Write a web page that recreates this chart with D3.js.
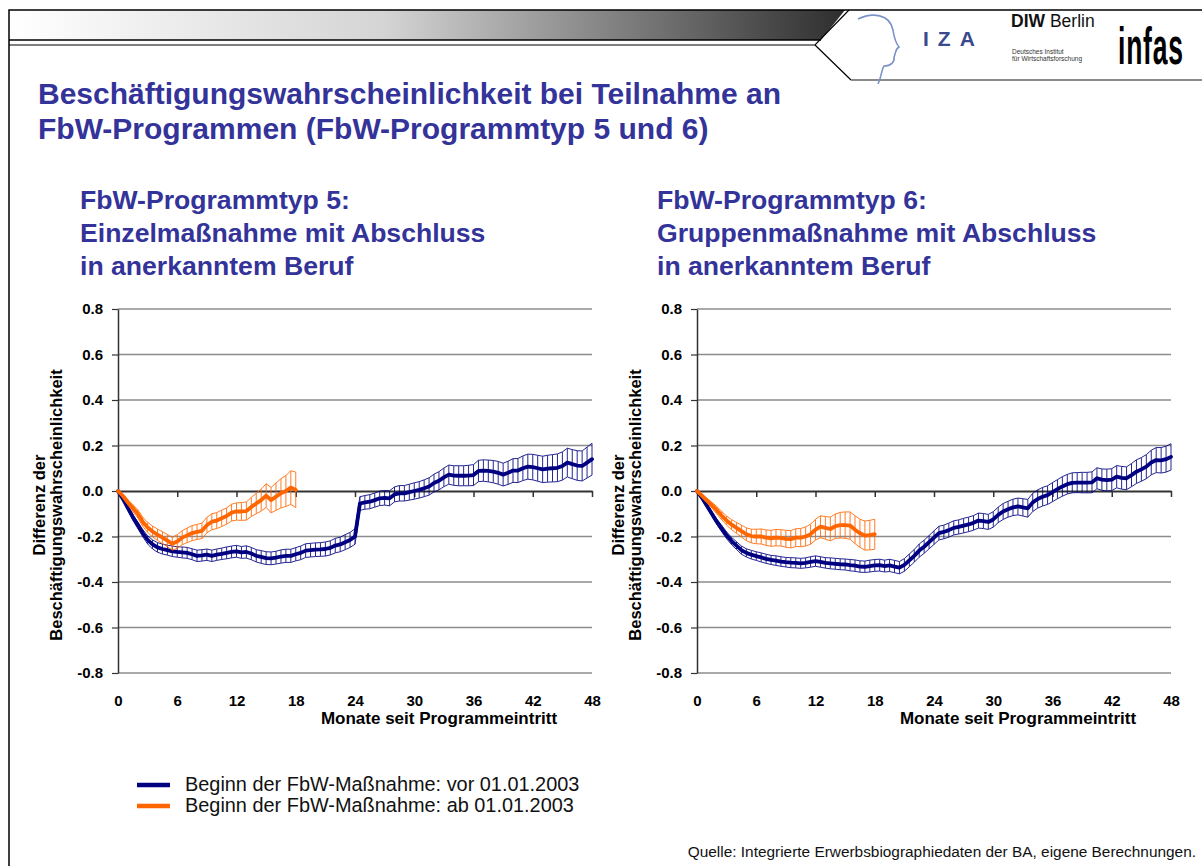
<!DOCTYPE html>
<html>
<head>
<meta charset="utf-8">
<script src="https://cdn.jsdelivr.net/npm/d3@7"></script>
<style>
  body { margin: 0; background: #fff; }
  svg { display: block; }
  text { font-family: "Liberation Sans", Arial, sans-serif; }
</style>
</head>
<body>
<svg id="chart" width="1202" height="866"></svg>
<script>
// months since entry, tick labels
const xTicks = [0, 6, 12, 18, 24, 30, 36, 42, 48];
const yTicks = [-0.8, -0.6, -0.4, -0.2, 0, 0.2, 0.4, 0.6, 0.8];
const step = 0.5; // half-month observations

// Programmtyp 5, Beginn vor 01.01.2003 (blue)
const vor5 = [
  0, -0.035, -0.075, -0.115, -0.15, -0.185, -0.215, -0.235, -0.248, -0.255,
  -0.26, -0.265, -0.268, -0.27, -0.272, -0.278, -0.285, -0.283, -0.28, -0.285,
  -0.28, -0.276, -0.272, -0.268, -0.265, -0.27, -0.268, -0.275, -0.285, -0.29,
  -0.295, -0.296, -0.293, -0.288, -0.285, -0.285, -0.278, -0.272, -0.262, -0.26,
  -0.258, -0.257, -0.255, -0.25, -0.24, -0.235, -0.225, -0.215, -0.2, -0.055,
  -0.05, -0.047, -0.04, -0.032, -0.03, -0.032, -0.015, -0.01, -0.01, -0.005,
  0, 0.005, 0.012, 0.02, 0.035, 0.045, 0.06, 0.072, 0.068, 0.067,
  0.067, 0.068, 0.07, 0.088, 0.09, 0.088, 0.085, 0.08, 0.072, 0.08,
  0.09, 0.09, 0.1, 0.107, 0.105, 0.1, 0.095, 0.098, 0.1, 0.102,
  0.11, 0.125, 0.118, 0.112, 0.11, 0.125, 0.14
];
const vor5Ci = [
  0, 0.006, 0.01, 0.012, 0.014, 0.016, 0.018, 0.02, 0.021, 0.022,
  0.022, 0.023, 0.023, 0.024, 0.024, 0.024, 0.025, 0.025, 0.025, 0.025,
  0.025, 0.025, 0.026, 0.026, 0.026, 0.026, 0.027, 0.027, 0.027, 0.028,
  0.028, 0.028, 0.028, 0.029, 0.029, 0.029, 0.029, 0.03, 0.03, 0.03,
  0.03, 0.03, 0.031, 0.031, 0.032, 0.032, 0.033, 0.033, 0.034, 0.03,
  0.03, 0.031, 0.031, 0.032, 0.032, 0.033, 0.033, 0.034, 0.034, 0.035,
  0.036, 0.036, 0.037, 0.038, 0.039, 0.04, 0.041, 0.042, 0.043, 0.044,
  0.044, 0.045, 0.046, 0.047, 0.047, 0.048, 0.049, 0.05, 0.05, 0.051,
  0.052, 0.053, 0.054, 0.055, 0.056, 0.057, 0.058, 0.059, 0.06, 0.061,
  0.062, 0.063, 0.064, 0.065, 0.066, 0.068, 0.07
];
// Programmtyp 5, Beginn ab 01.01.2003 (orange)
const ab5 = [
  0, -0.022, -0.05, -0.075, -0.1, -0.135, -0.16, -0.178, -0.192, -0.205,
  -0.218, -0.232, -0.222, -0.205, -0.195, -0.185, -0.18, -0.175, -0.15, -0.135,
  -0.13, -0.12, -0.11, -0.095, -0.09, -0.09, -0.088, -0.07, -0.055, -0.04,
  -0.02, -0.04, -0.025, -0.01, 0, 0.015, 0.005
];
const ab5Ci = [
  0, 0.008, 0.012, 0.015, 0.018, 0.02, 0.022, 0.024, 0.025, 0.026,
  0.027, 0.028, 0.03, 0.031, 0.032, 0.033, 0.033, 0.034, 0.034, 0.035,
  0.035, 0.036, 0.036, 0.037, 0.038, 0.039, 0.04, 0.042, 0.045, 0.048,
  0.052, 0.056, 0.06, 0.064, 0.068, 0.074, 0.078
];
// Programmtyp 6, Beginn vor 01.01.2003 (blue)
const vor6 = [
  0, -0.03, -0.065, -0.1, -0.135, -0.165, -0.195, -0.22, -0.24, -0.26,
  -0.272, -0.28, -0.286, -0.292, -0.298, -0.303, -0.306, -0.31, -0.313, -0.315,
  -0.316, -0.318, -0.316, -0.312, -0.308, -0.312, -0.316, -0.318, -0.32, -0.322,
  -0.323, -0.326, -0.328, -0.332, -0.333, -0.33, -0.327, -0.326, -0.33, -0.327,
  -0.332, -0.337, -0.325, -0.305, -0.285, -0.262, -0.245, -0.225, -0.205, -0.185,
  -0.18, -0.172, -0.162, -0.158, -0.152, -0.147, -0.14, -0.13, -0.132, -0.136,
  -0.125, -0.105, -0.09, -0.08, -0.072, -0.068, -0.072, -0.076, -0.05, -0.035,
  -0.025, -0.018, -0.005, 0.008, 0.02, 0.03, 0.036, 0.037, 0.037, 0.037,
  0.038, 0.056, 0.05, 0.048, 0.05, 0.063, 0.058, 0.056, 0.07, 0.085,
  0.095, 0.107, 0.125, 0.136, 0.135, 0.14, 0.15
];
const vor6Ci = [
  0, 0.005, 0.008, 0.01, 0.012, 0.014, 0.015, 0.016, 0.017, 0.018,
  0.018, 0.019, 0.019, 0.02, 0.02, 0.02, 0.021, 0.021, 0.021, 0.022,
  0.022, 0.022, 0.022, 0.023, 0.023, 0.023, 0.023, 0.024, 0.024, 0.024,
  0.024, 0.025, 0.025, 0.025, 0.025, 0.026, 0.026, 0.026, 0.026, 0.027,
  0.027, 0.027, 0.028, 0.028, 0.028, 0.029, 0.029, 0.029, 0.03, 0.03,
  0.03, 0.031, 0.031, 0.031, 0.032, 0.032, 0.032, 0.033, 0.033, 0.033,
  0.034, 0.034, 0.035, 0.035, 0.036, 0.037, 0.038, 0.039, 0.04, 0.04,
  0.041, 0.041, 0.042, 0.042, 0.043, 0.043, 0.044, 0.044, 0.045, 0.045,
  0.046, 0.046, 0.047, 0.048, 0.048, 0.049, 0.05, 0.05, 0.051, 0.052,
  0.052, 0.053, 0.054, 0.055, 0.056, 0.057, 0.058
];
// Programmtyp 6, Beginn ab 01.01.2003 (orange)
const ab6 = [
  0, -0.02, -0.042, -0.062, -0.084, -0.108, -0.13, -0.148, -0.162, -0.176,
  -0.19, -0.198, -0.2, -0.2, -0.205, -0.208, -0.205, -0.206, -0.21, -0.212,
  -0.205, -0.205, -0.2, -0.19, -0.17, -0.157, -0.162, -0.167, -0.155, -0.15,
  -0.15, -0.152, -0.17, -0.186, -0.196, -0.194, -0.19
];
const ab6Ci = [
  0, 0.006, 0.01, 0.013, 0.016, 0.018, 0.02, 0.022, 0.024, 0.026,
  0.028, 0.03, 0.032, 0.033, 0.034, 0.035, 0.036, 0.036, 0.037, 0.038,
  0.039, 0.04, 0.042, 0.044, 0.046, 0.048, 0.05, 0.052, 0.054, 0.056,
  0.058, 0.06, 0.061, 0.062, 0.064, 0.065, 0.066
];

const legendLabels = ['Beginn der FbW-Maßnahme: vor 01.01.2003', 'Beginn der FbW-Maßnahme: ab 01.01.2003'];

const navy = '#000080';
const orange = '#ff6600';
const titleBlue = '#333399';

const svg = d3.select('#chart');
svg.append('rect').attr('width', 1202).attr('height', 866).attr('fill', '#fff');

// ---- slide header ----
const grad = svg.append('defs').append('linearGradient').attr('id', 'hdr')
  .attr('x1', '0%').attr('x2', '100%');
grad.append('stop').attr('offset', '0%').attr('stop-color', '#ffffff');
grad.append('stop').attr('offset', '45%').attr('stop-color', '#d4d4d4');
grad.append('stop').attr('offset', '100%').attr('stop-color', '#2e2e2e');

svg.append('path').attr('d', 'M9,10 L845,10 L821,40 L9,40 Z').attr('fill', 'url(#hdr)');
svg.append('path').attr('d', 'M9,866 L9,10 L1202,10').attr('fill', 'none').attr('stroke', '#000').attr('stroke-width', 1.5);
svg.append('line').attr('x1', 9).attr('x2', 821).attr('y1', 40).attr('y2', 40).attr('stroke', '#000').attr('stroke-width', 1.5);
svg.append('path').attr('d', 'M9,45 L815,45 L849,10 M815,45 L851,80')
  .attr('fill', 'none').attr('stroke', '#000').attr('stroke-width', 1.2);
svg.append('line').attr('x1', 851).attr('x2', 1202).attr('y1', 80).attr('y2', 80).attr('stroke', '#8a8a8a').attr('stroke-width', 2);

// logos
svg.append('path')
  .attr('d', 'M858,19 C872,12 890,14 893,30 C894,37 895,42 899,47 C895,49 896,53 894,57 C895,62 891,66 884,66 C881,70 882,76 878,84')
  .attr('fill', 'none').attr('stroke', '#7b93c8').attr('stroke-width', 1.6);
svg.append('text').attr('x', 923).attr('y', 46).attr('font-size', 21).attr('font-weight', 'bold')
  .attr('letter-spacing', 9).attr('fill', '#3b4a8c').text('IZA');
const diw = svg.append('text').attr('x', 1011).attr('y', 27).attr('font-size', 17.5).attr('fill', '#111');
diw.append('tspan').attr('font-weight', 'bold').text('DIW');
diw.append('tspan').text(' Berlin');
svg.append('text').attr('x', 1012).attr('y', 54).attr('font-size', 6.5).attr('fill', '#333').text('Deutsches Institut');
svg.append('text').attr('x', 1012).attr('y', 61).attr('font-size', 6.5).attr('fill', '#333').text('für Wirtschaftsforschung');
svg.append('text').attr('transform', 'translate(1118,64) scale(0.78,1.5)')
  .attr('font-size', 34).attr('font-weight', 'bold').attr('letter-spacing', 1)
  .attr('fill', '#000').text('infas');

// ---- titles ----
const title = svg.append('text').attr('font-size', 30).attr('font-weight', 'bold').attr('fill', titleBlue);
title.append('tspan').attr('x', 38).attr('y', 104).text('Beschäftigungswahrscheinlichkeit bei Teilnahme an');
title.append('tspan').attr('x', 38).attr('y', 139).text('FbW-Programmen (FbW-Programmtyp 5 und 6)');

function subtitle(x0, lines) {
  const t = svg.append('text').attr('font-size', 26.6).attr('font-weight', 'bold').attr('fill', titleBlue);
  lines.forEach((s, i) => t.append('tspan').attr('x', x0).attr('y', 209 + i * 33).text(s));
}
subtitle(80, ['FbW-Programmtyp 5:', 'Einzelmaßnahme mit Abschluss', 'in anerkanntem Beruf']);
subtitle(657, ['FbW-Programmtyp 6:', 'Gruppenmaßnahme mit Abschluss', 'in anerkanntem Beruf']);

// ---- panels ----
function drawBand(g, x, y, vals, ci, col) {
  const pts = vals.map((v, i) => ({ m: i * step, v: v, lo: v - ci[i], hi: v + ci[i] }));
  const bg = g.append('g').attr('stroke', col).attr('fill', 'none').attr('stroke-width', 1).attr('opacity', 0.85);
  bg.append('path').datum(pts).attr('d', d3.line().x(d => x(d.m)).y(d => y(d.hi)));
  bg.append('path').datum(pts).attr('d', d3.line().x(d => x(d.m)).y(d => y(d.lo)));
  bg.selectAll('line').data(pts).join('line')
    .attr('x1', d => x(d.m)).attr('x2', d => x(d.m))
    .attr('y1', d => y(d.lo)).attr('y2', d => y(d.hi));
  g.append('path').datum(pts)
    .attr('d', d3.line().x(d => x(d.m)).y(d => y(d.v)))
    .attr('fill', 'none').attr('stroke', col).attr('stroke-width', 3.8)
    .attr('stroke-linejoin', 'round').attr('stroke-linecap', 'round');
}

function drawPanel(left, vor, vorCi, ab, abCi) {
  const x = d3.scaleLinear().domain([0, 48]).range([left, left + 474]);
  const y = d3.scaleLinear().domain([-0.8, 0.8]).range([673, 309]);
  const g = svg.append('g');

  g.selectAll('line.grid').data(yTicks.filter(d => d !== 0)).join('line')
    .attr('class', 'grid')
    .attr('x1', x(0)).attr('x2', x(48))
    .attr('y1', d => y(d)).attr('y2', d => y(d))
    .attr('stroke', '#8c8c8c').attr('stroke-width', 1.5);

  const ya = g.append('g').attr('transform', `translate(${x(0)},0)`)
    .call(d3.axisLeft(y).tickValues(yTicks).tickSize(6).tickSizeOuter(0).tickPadding(9)
      .tickFormat(d => d.toFixed(1)));
  ya.select('.domain').attr('stroke', '#333').attr('stroke-width', 1.5);
  ya.selectAll('.tick line').attr('stroke', '#333').attr('stroke-width', 1.2);
  ya.selectAll('text').attr('font-size', 15).attr('font-weight', 'bold').attr('fill', '#000')
    .style('font-family', '"Liberation Sans", Arial, sans-serif');

  const xa = g.append('g').attr('transform', `translate(0,${y(0)})`)
    .call(d3.axisBottom(x).tickValues(xTicks.slice(1)).tickSize(6).tickSizeOuter(0).tickFormat(''));
  xa.select('.domain').attr('stroke', '#333').attr('stroke-width', 2.2);
  xa.selectAll('.tick line').attr('stroke', '#333').attr('stroke-width', 1.5);

  const xl = g.append('g').attr('transform', `translate(0,${y(-0.8)})`)
    .call(d3.axisBottom(x).tickValues(xTicks).tickSize(0).tickPadding(22));
  xl.select('.domain').remove();
  xl.selectAll('text').attr('font-size', 15).attr('font-weight', 'bold').attr('fill', '#000')
    .style('font-family', '"Liberation Sans", Arial, sans-serif');

  g.append('text').attr('x', left + 321).attr('y', 724).attr('text-anchor', 'middle')
    .attr('font-size', 17).attr('font-weight', 'bold').text('Monate seit Programmeintritt');

  const yt = g.append('text').attr('transform', `translate(${left - 118},505) rotate(-90)`)
    .attr('text-anchor', 'middle').attr('font-size', 16.5).attr('font-weight', 'bold');
  yt.append('tspan').attr('x', 0).attr('y', 45).text('Differenz der');
  yt.append('tspan').attr('x', 0).attr('y', 62).text('Beschäftigungswahrscheinlichkeit');

  drawBand(g, x, y, vor, vorCi, navy);
  drawBand(g, x, y, ab, abCi, orange);
}

drawPanel(118, vor5, vor5Ci, ab5, ab5Ci);
drawPanel(697, vor6, vor6Ci, ab6, ab6Ci);

// ---- legend ----
const lg = svg.append('g');
lg.selectAll('line').data([navy, orange]).join('line')
  .attr('x1', 137).attr('x2', 170)
  .attr('y1', (d, i) => 785 + i * 21).attr('y2', (d, i) => 785 + i * 21)
  .attr('stroke', d => d).attr('stroke-width', 4.5);
lg.selectAll('text').data(legendLabels).join('text')
  .attr('x', 185).attr('y', (d, i) => 791 + i * 21)
  .attr('font-size', 19.9).attr('fill', '#111').text(d => d);

svg.append('text').attr('x', 1196).attr('y', 857).attr('text-anchor', 'end')
  .attr('font-size', 15.4).attr('fill', '#111')
  .text('Quelle: Integrierte Erwerbsbiographiedaten der BA, eigene Berechnungen.');
</script>
</body>
</html>
